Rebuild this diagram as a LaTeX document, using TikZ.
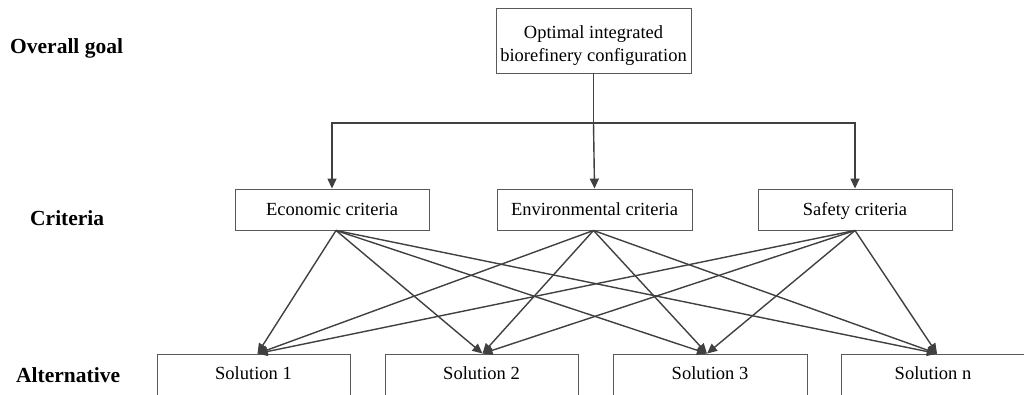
\documentclass[tikz,border=0pt]{standalone}
\usepackage{fontspec}
\setmainfont{Liberation Serif}
\usetikzlibrary{arrows.meta}
\begin{document}
\begin{tikzpicture}[x=1pt,y=-1pt,
  box/.style={draw=black!65,line width=0.9pt,fill=white,inner sep=0pt,font=\fontsize{18.5}{23}\selectfont,align=center,text height=16pt,text depth=4pt},
  level/.style={font=\bfseries\fontsize{21.5}{24}\selectfont,anchor=west,inner sep=0pt},
  conn/.style={draw=black!75,line width=1.4pt,-{Triangle[length=10pt,width=9pt]}}]
\useasboundingbox (0,0) rectangle (1024,394);
% level labels
\node[level] (lg) at (10,48) {Overall goal};
\node[level] (lc) at (30,218) {Criteria};
\node[level] (la) at (16,375) {Alternative};
% goal
\node[box,text height=,text depth=,minimum width=195pt,minimum height=65pt] (goal) at (593.5,40.5)
  {\raisebox{-5pt}[\height][\depth]{\begin{tabular}{@{}c@{}}Optimal integrated\\biorefinery configuration\end{tabular}}};
% criteria
\node[box,minimum width=194pt,minimum height=41pt] (eco) at (332,209.5) {Economic criteria};
\node[box,minimum width=195pt,minimum height=41pt] (env) at (594.5,209.5) {Environmental criteria};
\node[box,minimum width=194pt,minimum height=41pt] (saf) at (855,209.5) {Safety criteria};
% alternatives
\node[box,minimum width=193pt,minimum height=50pt] (s1) at (253.5,379) {\raisebox{6pt}{Solution 1}};
\node[box,minimum width=193pt,minimum height=50pt] (s2) at (481.5,379) {\raisebox{6pt}{Solution 2}};
\node[box,minimum width=194pt,minimum height=50pt] (s3) at (710,379) {\raisebox{6pt}{Solution 3}};
\node[box,minimum width=184pt,minimum height=50pt] (sn) at (933,379) {\raisebox{6pt}{Solution n}};
% goal to criteria
\coordinate (bar) at (593.5,123);
\draw[draw=black!75,line width=1.4pt] (goal.south) -- (bar);
\draw[conn] (bar) -| (eco.north);
\draw[conn] (bar) -| (saf.north);
\draw[conn] (bar) -- (env.north);
% criteria to alternatives
\coordinate (eo) at ([xshift=4pt]eco.south);
\coordinate (vo) at ([xshift=-1pt]env.south);
\coordinate (so) at (saf.south);
\foreach \c in {eo,vo,so}{
  \foreach \s/\dx in {s1/4,s2/1,s3/-3,sn/4}{
    \draw[conn] (\c) -- ([xshift=\dx pt]\s.north);
  }
}
\end{tikzpicture}
\end{document}
